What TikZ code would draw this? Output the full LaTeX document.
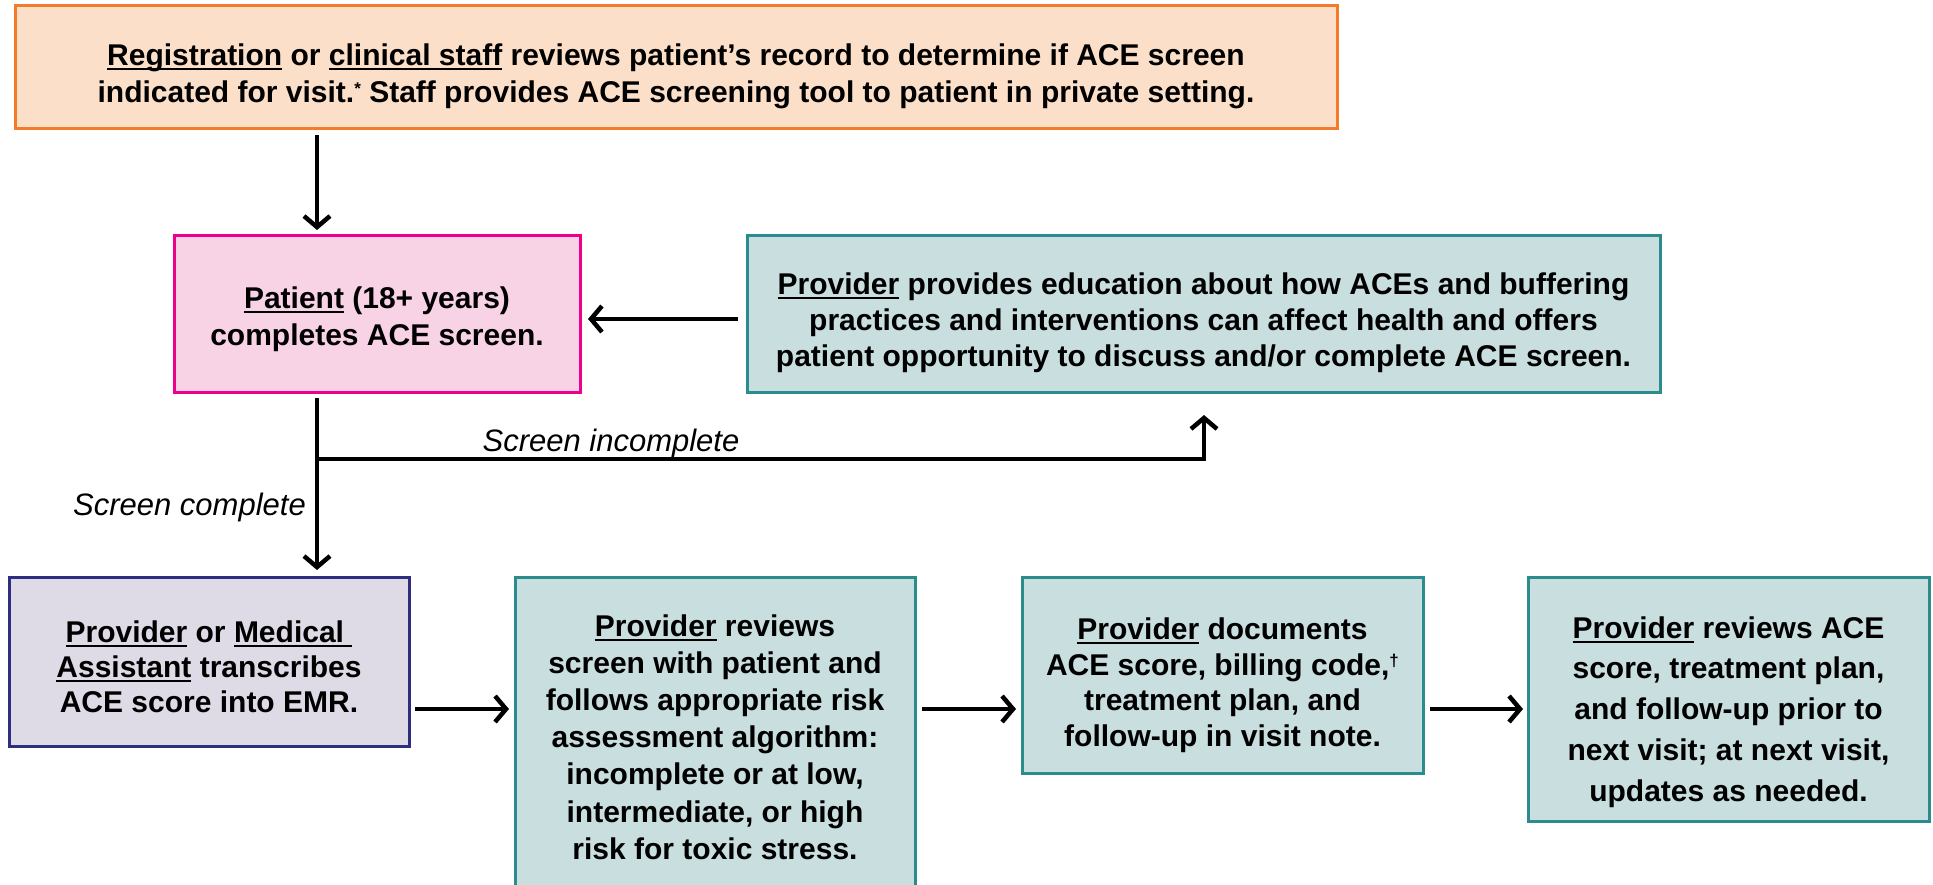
\documentclass[tikz,border=0pt]{standalone}
\usepackage{fontspec}
\setmainfont{Liberation Sans}
\usetikzlibrary{arrows.meta}
\definecolor{peachfill}{HTML}{FCDFC8}
\definecolor{peachline}{HTML}{F47B2A}
\definecolor{pinkfill}{HTML}{F8D3E5}
\definecolor{pinkline}{HTML}{EC008C}
\definecolor{tealfill}{HTML}{C9DEDF}
\definecolor{tealline}{HTML}{2A8C8C}
\definecolor{lavfill}{HTML}{DEDBE6}
\definecolor{navyline}{HTML}{2E2D7E}
\newsavebox\ulbox
\newcommand\uln[1]{\sbox\ulbox{#1}\rlap{\rule[-4.5pt]{\wd\ulbox}{2pt}}\usebox\ulbox}
\newcommand\supast{\raisebox{8pt}{\fontsize{17}{17}\selectfont *}}
\newcommand\supdag{\raisebox{9pt}{\fontsize{17}{17}\selectfont †}}
\begin{document}
\begin{tikzpicture}[x=1pt,y=-1pt,
  box/.style={draw, line width=3pt, inner sep=0pt, outer sep=0pt, anchor=north west},
  peachbox/.style={box, fill=peachfill, draw=peachline},
  pinkbox/.style={box, fill=pinkfill, draw=pinkline},
  tealbox/.style={box, fill=tealfill, draw=tealline},
  lavbox/.style={box, fill=lavfill, draw=navyline},
  txt/.style={inner sep=0pt, align=center, font=\bfseries\fontsize{30}{#1}\selectfont},
  txt/.default=36.7,
  arr/.style={line width=4.5pt, -{Straight Barb[length=11pt,width=26pt]}},
  lbl/.style={font=\itshape\fontsize{31}{36}\selectfont, inner sep=0pt}]
\useasboundingbox (0,0) rectangle (1933,884);
\clip (0,0) rectangle (1933,884);

\node[peachbox, minimum width=1322pt, minimum height=123pt] (top) at (15,5) {};
\node[txt] (topT) at ([yshift=-10pt]top.center)
  {\uln{Registration} or \uln{clinical staff} reviews patient’s record to determine if ACE screen\\
   indicated for visit.\supast{} Staff provides ACE screening tool to patient in private setting.};

\node[pinkbox, minimum width=406pt, minimum height=157pt] (patient) at (174,235) {};
\node[txt] (patientT) at ([yshift=-6pt]patient.center)
  {\uln{Patient} (18+ years)\\ completes ACE screen.};

\node[tealbox, minimum width=913pt, minimum height=157pt] (edu) at (747,235) {};
\node[txt=35.8] (eduT) at ([yshift=-9pt]edu.center)
  {\uln{Provider} provides education about how ACEs and buffering\\
   practices and interventions can affect health and offers\\
   patient opportunity to discuss and/or complete ACE screen.};

\node[lavbox, minimum width=400pt, minimum height=169pt] (ma) at (9,577) {};
\node[txt=34.8] (maT) at ([yshift=-5pt]ma.center)
  {\uln{Provider} or \uln{Medical\ }\\ \uln{Assistant} transcribes\\ ACE score into EMR.};

\node[tealbox, minimum width=400pt, minimum height=320pt] (risk) at (515,577) {};
\node[txt=37.2] (riskT) at (risk.center)
  {\uln{Provider} reviews\\ screen with patient and\\ follows appropriate risk\\
   assessment algorithm:\\ incomplete or at low,\\ intermediate, or high\\ risk for toxic stress.};

\node[tealbox, minimum width=401pt, minimum height=196pt] (doc) at (1022,577) {};
\node[txt=35.5] (docT) at ([yshift=-10pt]doc.center)
  {\uln{Provider} documents\\ ACE score, billing code,\supdag\\ treatment plan, and\\ follow-up in visit note.};

\node[tealbox, minimum width=401pt, minimum height=244pt] (rev) at (1528,577) {};
\node[txt=40.8] (revT) at ([yshift=-13pt]rev.center)
  {\uln{Provider} reviews ACE\\ score, treatment plan,\\ and follow-up prior to\\
   next visit; at next visit,\\ updates as needed.};

\coordinate (spine) at (317,0);
\coordinate (incx) at (1204,0);
\coordinate (branch) at (317,459);
\coordinate (eduy) at (0,319);
\coordinate (row) at (0,709);

\draw[arr] ([yshift=-7pt]top.south -| spine) -- ([yshift=5pt]patient.north -| spine);
\draw[arr] ([xshift=-9pt]edu.west |- eduy) -- ([xshift=8pt]patient.east |- eduy);
\draw[arr] ([yshift=-6pt]patient.south -| spine) -- ([yshift=7pt]ma.north -| spine);
\draw[arr] (branch) -| ([yshift=-23pt]edu.south -| incx);
\draw[arr] ([xshift=6pt]ma.east |- row) -- ([xshift=-6pt]risk.west |- row);
\draw[arr] ([xshift=7pt]risk.east |- row) -- ([xshift=-6pt]doc.west |- row);
\draw[arr] ([xshift=7pt]doc.east |- row) -- ([xshift=-5pt]rev.west |- row);

\node[lbl, anchor=base] (inc) at (611,451) {Screen incomplete};
\node[lbl, anchor=base east] (comp) at (306,515) {Screen complete};
\end{tikzpicture}
\end{document}
